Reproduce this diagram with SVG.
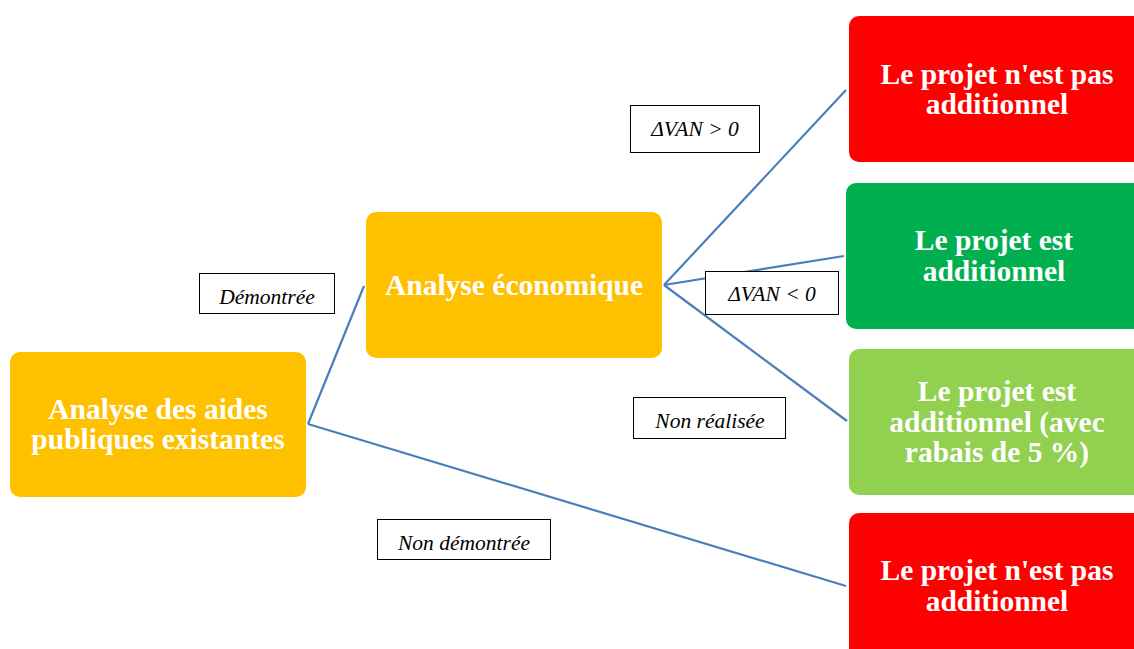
<svg xmlns="http://www.w3.org/2000/svg" width="1134" height="649" viewBox="0 0 1134 649">
<style>
.node text{font-family:"Liberation Serif","Times New Roman",serif;font-weight:bold;font-size:29.5px;fill:#fff;text-anchor:middle}
.lbl rect{fill:#fff;stroke:#000;stroke-width:1}
.lbl text{font-family:"Liberation Serif","Times New Roman",serif;font-style:italic;font-size:21.5px;fill:#000;text-anchor:middle}
.conn line{stroke:#4a7ebb;stroke-width:2.2}
</style>
<rect width="1134" height="649" fill="#fff"/>
<g class="conn" id="connectors">
<line x1="308" y1="424" x2="364" y2="286"/>
<line x1="308" y1="424" x2="846" y2="586"/>
<line x1="664" y1="285" x2="846" y2="90"/>
<line x1="664" y1="285" x2="844" y2="256"/>
<line x1="664" y1="285" x2="847" y2="421"/>
</g>
<g class="node" id="n-aides">
<rect x="10" y="352" width="296" height="145" rx="10" fill="#ffc000"/>
<text x="158" y="419">Analyse des aides</text>
<text x="158" y="449">publiques existantes</text>
</g>
<g class="node" id="n-eco">
<rect x="366" y="212" width="296" height="146" rx="10" fill="#ffc000"/>
<text x="514" y="295">Analyse économique</text>
</g>
<g class="node" id="n-pas1">
<rect x="849" y="16" width="300" height="146" rx="10" fill="#ff0000"/>
<text x="997" y="84">Le projet n'est pas</text>
<text x="997" y="114">additionnel</text>
</g>
<g class="node" id="n-est">
<rect x="846" y="183" width="300" height="146" rx="10" fill="#00b050"/>
<text x="994" y="250">Le projet est</text>
<text x="994" y="281">additionnel</text>
</g>
<g class="node" id="n-rabais">
<rect x="849" y="349" width="300" height="146" rx="10" fill="#92d050"/>
<text x="997" y="401">Le projet est</text>
<text x="997" y="432">additionnel (avec</text>
<text x="997" y="462">rabais de 5 %)</text>
</g>
<g class="node" id="n-pas2">
<rect x="849" y="513" width="300" height="146" rx="10" fill="#ff0000"/>
<text x="997" y="580">Le projet n'est pas</text>
<text x="997" y="611">additionnel</text>
</g>
<g class="lbl" id="l-demo">
<rect x="199.5" y="273.5" width="135" height="40"/>
<text x="267" y="304">Démontrée</text>
</g>
<g class="lbl" id="l-vanpos">
<rect x="630.5" y="105.5" width="129" height="47"/>
<text x="695" y="136">ΔVAN &gt; 0</text>
</g>
<g class="lbl" id="l-vanneg">
<rect x="705.5" y="271.5" width="133" height="43"/>
<text x="772" y="301">ΔVAN &lt; 0</text>
</g>
<g class="lbl" id="l-nonreal">
<rect x="633.5" y="397.5" width="152" height="41"/>
<text x="710" y="428">Non réalisée</text>
</g>
<g class="lbl" id="l-nondemo">
<rect x="377.5" y="519.5" width="173" height="40"/>
<text x="464" y="550">Non démontrée</text>
</g>
</svg>
